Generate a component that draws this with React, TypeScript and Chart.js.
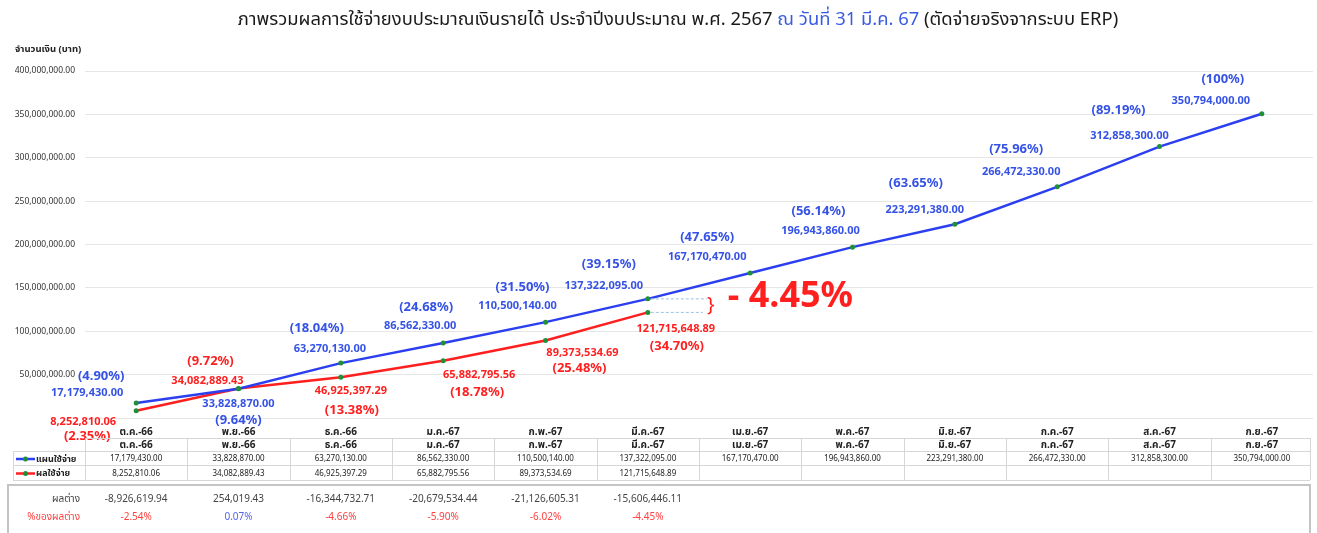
import React, { useEffect, useRef } from "react";
import { Chart, registerables } from "chart.js";

Chart.register(...registerables);

// ---------------- data ----------------
const months = ["ต.ค.-66", "พ.ย.-66", "ธ.ค.-66", "ม.ค.-67", "ก.พ.-67", "มี.ค.-67", "เม.ย.-67", "พ.ค.-67", "มิ.ย.-67", "ก.ค.-67", "ส.ค.-67", "ก.ย.-67"];
const planValues = [17179430.0, 33828870.0, 63270130.0, 86562330.0, 110500140.0, 137322095.0, 167170470.0, 196943860.0, 223291380.0, 266472330.0, 312858300.0, 350794000.0];
const actualValues: (number | null)[] = [8252810.06, 34082889.43, 46925397.29, 65882795.56, 89373534.69, 121715648.89, null, null, null, null, null, null];
const planPct = ["4.90", "9.64", "18.04", "24.68", "31.50", "39.15", "47.65", "56.14", "63.65", "75.96", "89.19", "100"];
const actualPct = ["2.35", "9.72", "13.38", "18.78", "25.48", "34.70"];
const diffValues = [-8926619.94, 254019.43, -16344732.71, -20679534.44, -21126605.31, -15606446.11];
const diffPct = ["-2.54%", "0.07%", "-4.66%", "-5.90%", "-6.02%", "-4.45%"];
const highlightPct = "- 4.45%";
const planLabel = "แผนใช้จ่าย";
const actualLabel = "ผลใช้จ่าย";
const diffLabel = "ผลต่าง";
const diffPctLabel = "%ของผลต่าง";
const yAxisTitle = "จำนวนเงิน (บาท)";
const titleParts = [
  { text: "ภาพรวมผลการใช้จ่ายงบประมาณเงินรายได้ ประจำปีงบประมาณ พ.ศ. 2567 ", blue: false },
  { text: "ณ วันที่ 31 มี.ค. 67", blue: true },
  { text: " (ตัดจ่ายจริงจากระบบ ERP)", blue: false },
];

// ---------------- label layout (offsets from each point) ----------------
const bluePctOff = [[-35, -27], [0, 32], [-24, -35], [-17, -36], [-23, -35], [-39, -35], [-43, -36], [-34, -36], [-39, -41], [-41, -38], [-41, -36], [-39, -34]];
const blueValOff = [[-49, -10], [0, 15], [-11, -14], [-23, -17], [-28, -16], [-44, -13], [-43, -16], [-32, -16], [-30, -14], [-36, -15], [-30, -11], [-51, -13]];
const redValOff = [[-53, 11], [-31, -8], [10, 14], [36, 14], [37, 12], [28, 16]];
const redPctOff = [[-49, 25], [-28, -27], [11, 33], [34, 31], [34, 28], [29, 34]];

const FONT = '"Noto Sans", "Noto Sans Thai", Tahoma, "DejaVu Sans", sans-serif';
const BLUE = "#2b3ff0";
const BLUE_TXT = "#3552e6";
const RED = "#ff1f1f";
const GREEN = "#1f8f3a";
const GRID = "#e6e6e6";
const TABLE_LINE = "#d6d6d6";

const fmt = (v: number) =>
  v.toLocaleString("en-US", { minimumFractionDigits: 2, maximumFractionDigits: 2 });

const overlay = {
  id: "overlay",
  afterDatasetsDraw(chart: any) {
    const ctx: CanvasRenderingContext2D = chart.ctx;
    const planMeta = chart.getDatasetMeta(0);
    const actMeta = chart.getDatasetMeta(1);
    ctx.save();
    ctx.textAlign = "center";
    ctx.textBaseline = "middle";

    // connectors at latest actual month
    const last = actualPct.length - 1;
    const pp = planMeta.data[last];
    const ap = actMeta.data[last];
    ctx.strokeStyle = "#9cc3e8";
    ctx.lineWidth = 1;
    ctx.setLineDash([3, 2]);
    ctx.beginPath();
    ctx.moveTo(pp.x + 3, pp.y);
    ctx.lineTo(pp.x + 59, pp.y);
    ctx.moveTo(ap.x + 3, ap.y);
    ctx.lineTo(ap.x + 55, ap.y);
    ctx.stroke();
    ctx.setLineDash([]);
    ctx.fillStyle = RED;
    ctx.font = `20px ${FONT}`;
    ctx.fillText("}", pp.x + 63, (pp.y + ap.y) / 2);
    ctx.font = `bold 36px ${FONT}`;
    ctx.textAlign = "left";
    ctx.fillText(highlightPct, pp.x + 80, (pp.y + ap.y) / 2 - 9);
    ctx.textAlign = "center";

    // plan labels
    planMeta.data.forEach((pt: any, i: number) => {
      ctx.fillStyle = BLUE_TXT;
      ctx.font = `bold 11px ${FONT}`;
      ctx.fillText(fmt(planValues[i]), pt.x + blueValOff[i][0], pt.y + blueValOff[i][1]);
      ctx.font = `bold 13px ${FONT}`;
      ctx.fillText(`(${planPct[i]}%)`, pt.x + bluePctOff[i][0], pt.y + bluePctOff[i][1]);
    });
    // actual labels
    actMeta.data.forEach((pt: any, i: number) => {
      const v = actualValues[i];
      if (v == null) return;
      ctx.fillStyle = RED;
      ctx.font = `bold 11px ${FONT}`;
      ctx.fillText(fmt(v), pt.x + redValOff[i][0], pt.y + redValOff[i][1]);
      ctx.font = `bold 13px ${FONT}`;
      ctx.fillText(`(${actualPct[i]}%)`, pt.x + redPctOff[i][0], pt.y + redPctOff[i][1]);
    });
    ctx.restore();
  },
  afterDraw(chart: any) {
    const ctx: CanvasRenderingContext2D = chart.ctx;
    const xs = chart.scales.x;
    const ca = chart.chartArea;
    ctx.save();

    // title
    ctx.font = `18.4px ${FONT}`;
    ctx.textBaseline = "middle";
    ctx.textAlign = "left";
    const total = titleParts.reduce((s, p) => s + ctx.measureText(p.text).width, 0);
    let tx = 678 - total / 2;
    titleParts.forEach((p) => {
      ctx.fillStyle = p.blue ? "#3a5be0" : "#1a1a1a";
      ctx.fillText(p.text, tx, 20);
      tx += ctx.measureText(p.text).width;
    });

    // y axis title
    ctx.font = `bold 9.5px ${FONT}`;
    ctx.fillStyle = "#222";
    ctx.fillText(yAxisTitle, 15, 49);

    // data table
    const n = months.length;
    const step = (ca.right - ca.left) / n;
    const tableLeft = 13;
    const tableRight = ca.right - 3;
    const b = ca.bottom;
    const r0 = b + 20, r1 = b + 33, r2 = b + 47, r3 = b + 62;
    ctx.strokeStyle = TABLE_LINE;
    ctx.lineWidth = 1;
    ctx.beginPath();
    ctx.moveTo(ca.left, r0 + 0.5); ctx.lineTo(tableRight, r0 + 0.5);
    [r1, r2, r3].forEach((y) => { ctx.moveTo(tableLeft, y + 0.5); ctx.lineTo(tableRight, y + 0.5); });
    ctx.moveTo(tableLeft + 0.5, r1); ctx.lineTo(tableLeft + 0.5, r3);
    for (let i = 0; i <= n; i++) {
      const x = Math.min(ca.left + i * step, tableRight);
      ctx.moveTo(Math.round(x) + 0.5, r0); ctx.lineTo(Math.round(x) + 0.5, r3);
    }
    ctx.stroke();

    ctx.textAlign = "center";
    for (let i = 0; i < n; i++) {
      const cx = xs.getPixelForValue(i);
      ctx.fillStyle = "#222";
      ctx.font = `bold 10px ${FONT}`;
      ctx.fillText(months[i], cx, (r0 + r1) / 2 + 1);
      ctx.font = `8px ${FONT}`;
      ctx.fillText(fmt(planValues[i]), cx, (r1 + r2) / 2 + 1);
      const a = actualValues[i];
      if (a != null) ctx.fillText(fmt(a), cx, (r2 + r3) / 2 + 1);
    }
    // legend keys in table
    const keys = [
      { label: planLabel, color: BLUE, y: (r1 + r2) / 2 + 1 },
      { label: actualLabel, color: RED, y: (r2 + r3) / 2 + 1 },
    ];
    keys.forEach((k) => {
      ctx.strokeStyle = k.color;
      ctx.lineWidth = 2.5;
      ctx.beginPath();
      ctx.moveTo(16, k.y); ctx.lineTo(35, k.y);
      ctx.stroke();
      ctx.fillStyle = GREEN;
      ctx.beginPath();
      ctx.arc(25.5, k.y, 2.5, 0, Math.PI * 2);
      ctx.fill();
      ctx.fillStyle = "#222";
      ctx.font = `bold 9px ${FONT}`;
      ctx.textAlign = "left";
      ctx.fillText(k.label, 36, k.y);
      ctx.textAlign = "center";
    });

    // difference box
    const boxTop = b + 67;
    ctx.strokeStyle = "#c4c4c4";
    ctx.lineWidth = 2;
    ctx.strokeRect(8, boxTop, tableRight - 8, 60);
    ctx.textAlign = "right";
    ctx.font = `10px ${FONT}`;
    ctx.fillStyle = "#444";
    ctx.fillText(diffLabel, 80, boxTop + 14);
    ctx.fillStyle = "#ff4040";
    ctx.fillText(diffPctLabel, 80, boxTop + 32);
    ctx.textAlign = "center";
    diffValues.forEach((d, i) => {
      const cx = xs.getPixelForValue(i);
      ctx.fillStyle = "#444";
      ctx.fillText(fmt(d), cx, boxTop + 14);
      ctx.fillStyle = d < 0 ? "#ff4040" : "#5566ee";
      ctx.fillText(diffPct[i], cx, boxTop + 32);
    });
    ctx.restore();
  },
};

export default function App() {
  const ref = useRef<HTMLCanvasElement>(null);
  useEffect(() => {
    const chart = new Chart(ref.current!, {
      type: "line",
      data: {
        labels: months,
        datasets: [
          {
            label: planLabel,
            data: planValues,
            borderColor: BLUE,
            borderWidth: 2.5,
            pointRadius: 2.5,
            pointBackgroundColor: GREEN,
            pointBorderWidth: 0,
            tension: 0,
          },
          {
            label: actualLabel,
            data: actualValues,
            borderColor: RED,
            borderWidth: 2.5,
            pointRadius: 2.5,
            pointBackgroundColor: GREEN,
            pointBorderWidth: 0,
            tension: 0,
          },
        ],
      },
      options: {
        responsive: false,
        maintainAspectRatio: false,
        animation: false,
        devicePixelRatio: 1,
        layout: { padding: { top: 71, left: 0, right: 2, bottom: 0 } },
        plugins: { legend: { display: false }, tooltip: { enabled: false }, title: { display: false } },
        scales: {
          x: {
            offset: true,
            grid: { display: false, drawTicks: false },
            border: { display: false },
            ticks: { font: { family: FONT, size: 10, weight: "bold" }, color: "#222", padding: 8, maxRotation: 0, autoSkip: false },
            afterFit: (s: any) => { s.height = 115; },
          },
          y: {
            min: 0,
            max: 400000000,
            grid: { color: GRID, drawTicks: false },
            border: { display: false },
            ticks: {
              stepSize: 50000000,
              padding: 10,
              color: "#333",
              font: { family: FONT, size: 8.5 },
              callback: (v: any) => (Number(v) === 0 ? "" : fmt(Number(v))),
            },
            afterFit: (s: any) => { s.width = 85; },
          },
        },
      },
      plugins: [overlay],
    });
    return () => chart.destroy();
  }, []);
  return (
    <div style={{ position: "absolute", left: 0, top: 0, width: 1317, height: 533, background: "#fff", overflow: "hidden" }}>
      <canvas ref={ref} width={1317} height={533} style={{ display: "block", width: 1317, height: 533 }} />
    </div>
  );
}
